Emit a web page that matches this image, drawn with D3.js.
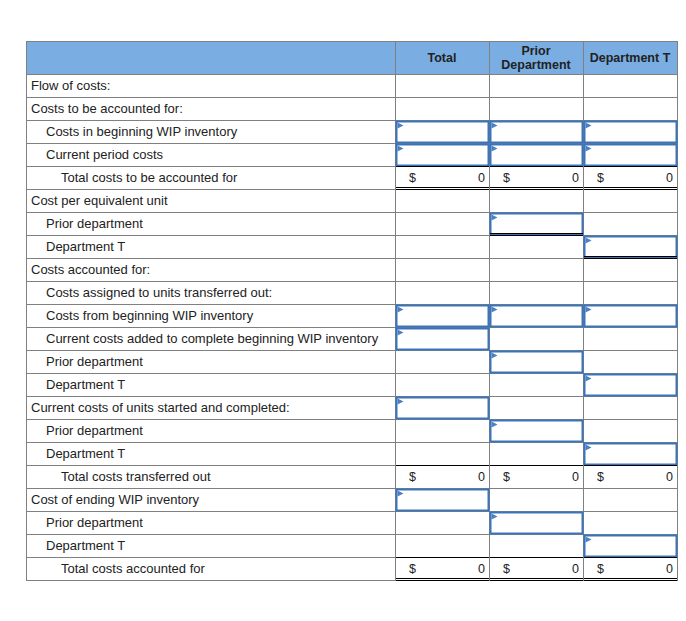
<!DOCTYPE html>
<meta charset="utf-8">
<style>
  body { margin: 0; background: #fff; }
  text { font-family: Arial, "Liberation Sans", sans-serif; fill: #222; }
</style>
<svg id="worksheet" width="686" height="621"></svg>
<script src="https://cdnjs.cloudflare.com/ajax/libs/d3/7.8.5/d3.min.js"></script>
<script>

// column headings (second heading wraps on two lines)
var columns = ["Total", "Prior Department", "Department T"];
var columnLines = [["Total"], ["Prior", "Department"], ["Department T"]];

// row labels and their indent level
var rowLabels = [
  "Flow of costs:",
  "Costs to be accounted for:",
  "Costs in beginning WIP inventory",
  "Current period costs",
  "Total costs to be accounted for",
  "Cost per equivalent unit",
  "Prior department",
  "Department T",
  "Costs accounted for:",
  "Costs assigned to units transferred out:",
  "Costs from beginning WIP inventory",
  "Current costs added to complete beginning WIP inventory",
  "Prior department",
  "Department T",
  "Current costs of units started and completed:",
  "Prior department",
  "Department T",
  "Total costs transferred out",
  "Cost of ending WIP inventory",
  "Prior department",
  "Department T",
  "Total costs accounted for"
];
var rowIndent = [0, 0, 1, 1, 2, 0, 1, 1, 0, 1, 1, 1, 1, 1, 0, 1, 1, 2, 0, 1, 1, 2];

// what sits in each value cell: "in" = entry box, "tot" = total, "" = empty
var cellKinds = [
  ["", "", ""],
  ["", "", ""],
  ["in", "in", "in"],
  ["in", "in", "in"],
  ["tot", "tot", "tot"],
  ["", "", ""],
  ["", "in", ""],
  ["", "", "in"],
  ["", "", ""],
  ["", "", ""],
  ["in", "in", "in"],
  ["in", "", ""],
  ["", "in", ""],
  ["", "", "in"],
  ["in", "", ""],
  ["", "in", ""],
  ["", "", "in"],
  ["tot", "tot", "tot"],
  ["in", "", ""],
  ["", "in", ""],
  ["", "", "in"],
  ["tot", "tot", "tot"]
];

// cells closed with a double rule
var doubleRules = [[4, 0], [4, 1], [4, 2], [6, 1], [7, 2], [21, 0], [21, 1], [21, 2]];

// total values shown in the "tot" cells
var totalValues = {4: [0, 0, 0], 17: [0, 0, 0], 21: [0, 0, 0]};

var svg = d3.select("#worksheet"),
    left = 26, right = 677, labelRight = 395,
    headTop = 41, headBottom = 74, bottom = 580,
    grid = "#808080", blue = "#3d74b8";

var y = d3.scaleBand()
    .domain(d3.range(rowLabels.length))
    .range([headBottom, bottom]);

var x = d3.scaleBand()
    .domain(columns)
    .range([labelRight, right]);

// header band
svg.append("rect")
    .attr("x", left).attr("y", headTop)
    .attr("width", right - left).attr("height", headBottom - headTop)
    .attr("fill", "#7aaee3");

svg.append("g").selectAll("text")
    .data(columns)
  .enter().append("text")
    .attr("x", function(d) { return x(d) + x.bandwidth() / 2; })
    .attr("y", function(d, i) { return (headTop + headBottom) / 2 - (columnLines[i].length - 1) * 7; })
    .attr("dy", "0.35em")
    .attr("text-anchor", "middle")
    .style("font-size", "12.5px")
    .style("font-weight", "bold")
    .each(function(d, i) {
      var t = d3.select(this);
      columnLines[i].forEach(function(line, k) {
        t.append("tspan")
            .attr("x", x(d) + x.bandwidth() / 2)
            .attr("dy", k ? "1.15em" : "0.35em")
            .text(line);
      });
    });

// grid lines
var hLines = [headTop, headBottom].concat(y.domain().map(function(i) { return y(i) + y.bandwidth(); }));
svg.append("g").selectAll("line")
    .data(hLines)
  .enter().append("line")
    .attr("x1", left).attr("x2", right + 1)
    .attr("y1", function(d) { return Math.round(d) + 0.5; })
    .attr("y2", function(d) { return Math.round(d) + 0.5; })
    .attr("stroke", grid);

var vLines = [left, labelRight].concat(columns.map(function(c) { return x(c) + x.bandwidth(); }));
svg.append("g").selectAll("line")
    .data(vLines)
  .enter().append("line")
    .attr("x1", function(d) { return Math.round(d) + 0.5; })
    .attr("x2", function(d) { return Math.round(d) + 0.5; })
    .attr("y1", headTop).attr("y2", bottom + 1)
    .attr("stroke", grid);

// row labels
svg.append("g").selectAll("text")
    .data(rowLabels)
  .enter().append("text")
    .attr("x", function(d, i) { return left + 5 + rowIndent[i] * 15; })
    .attr("y", function(d, i) { return y(i) + y.bandwidth() / 2 - 0.5; })
    .attr("dy", "0.35em")
    .style("font-size", "13px")
    .text(function(d) { return d; });

// flatten cells
var cells = [];
cellKinds.forEach(function(row, r) {
  row.forEach(function(kind, c) {
    if (kind) cells.push({row: r, col: columns[c], ci: c, kind: kind});
  });
});

// entry boxes
var boxes = svg.append("g").selectAll("g")
    .data(cells.filter(function(d) { return d.kind === "in"; }))
  .enter().append("g")
    .attr("transform", function(d) { return "translate(" + Math.round(x(d.col)) + "," + Math.round(y(d.row)) + ")"; });

boxes.append("rect")
    .attr("x", 1.5).attr("y", 1.5)
    .attr("width", function() { return Math.round(x.bandwidth()) - 2; })
    .attr("height", y.bandwidth() - 2)
    .attr("fill", "#fff")
    .attr("stroke", blue)
    .attr("stroke-width", 2);

boxes.append("path")
    .attr("d", "M2.5,2.5L8.5,5.5L2.5,8.5Z")
    .attr("fill", "#4a80c4");

// totals
var totals = svg.append("g").selectAll("g")
    .data(cells.filter(function(d) { return d.kind === "tot"; }))
  .enter().append("g")
    .attr("transform", function(d) { return "translate(" + Math.round(x(d.col)) + "," + Math.round(y(d.row)) + ")"; });

totals.append("line")
    .attr("x1", 1).attr("x2", function() { return Math.round(x.bandwidth()); })
    .attr("y1", 0.5).attr("y2", 0.5)
    .attr("stroke", "#000");

totals.append("text")
    .attr("x", 14)
    .attr("y", y.bandwidth() / 2 + 0.5)
    .attr("dy", "0.35em")
    .style("font-size", "12.5px")
    .text("$");

totals.append("text")
    .attr("x", function() { return Math.round(x.bandwidth()) - 4; })
    .attr("y", y.bandwidth() / 2 + 0.5)
    .attr("dy", "0.35em")
    .attr("text-anchor", "end")
    .style("font-size", "12.5px")
    .text(function(d) { return totalValues[d.row][d.ci]; });

// double rules
var rules = svg.append("g").selectAll("g")
    .data(doubleRules)
  .enter().append("g")
    .attr("transform", function(d) { return "translate(" + Math.round(x(columns[d[1]])) + "," + Math.round(y(d[0]) + y.bandwidth()) + ")"; });

rules.append("line")
    .attr("x1", 1).attr("x2", function() { return Math.round(x.bandwidth()); })
    .attr("y1", -1.5).attr("y2", -1.5)
    .attr("stroke", "#000");

rules.append("line")
    .attr("x1", 1).attr("x2", function() { return Math.round(x.bandwidth()); })
    .attr("y1", 0.5).attr("y2", 0.5)
    .attr("stroke", "#000");

</script>
